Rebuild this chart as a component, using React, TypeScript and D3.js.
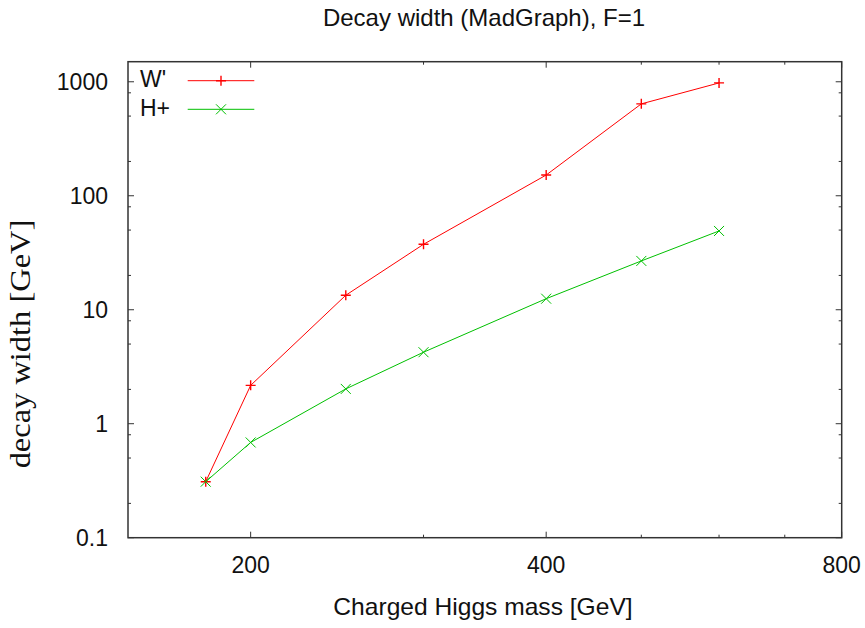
import React from "react";
import * as d3 from "d3";

const masses = [180, 200, 250, 300, 400, 500, 600];
const wprimeWidth = [0.31, 2.17, 13.4, 37.5, 152, 640, 977];
const hplusWidth = [0.31, 0.685, 2.02, 4.24, 12.5, 26.8, 49.1];
const seriesNames = ["W'", "H+"];
const xMajorTicks = [200, 400, 800];
const xMinorTicks = [300, 500, 600, 700];
const yMajorTicks = [0.1, 1, 10, 100, 1000];
const yMajorLabels = ["0.1", "1", "10", "100", "1000"];
const yMinorMultipliers = [2, 5, 8];

const W = 865;
const H = 628;
const L = 128;
const R = 841.7;
const T = 61.7;
const B = 537.7;

const SANS = "'Liberation Sans', Arial, sans-serif";
const SERIF = "'Liberation Serif', 'Times New Roman', serif";

export default function App() {
  const x = d3.scaleLog().domain([150, 800]).range([L, R]);
  const y = d3.scaleLog().domain([0.1, 1500]).range([B, T]);

  const yMinor: number[] = [];
  yMajorTicks.forEach((m) => {
    yMinorMultipliers.forEach((k) => {
      const v = m * k;
      if (v < 1500) yMinor.push(v);
    });
  });

  const line = d3
    .line<[number, number]>()
    .x((d) => x(d[0]))
    .y((d) => y(d[1]));

  const wData: [number, number][] = masses.map((m, i) => [m, wprimeWidth[i]]);
  const hData: [number, number][] = masses.map((m, i) => [m, hplusWidth[i]]);

  const red = "#ff0000";
  const green = "#00c000";
  const axisColor = "#333";
  const ms = 5;

  const plus = (cx: number, cy: number, c: string, key: string) => (
    <path
      key={key}
      d={`M${cx - ms},${cy}H${cx + ms}M${cx},${cy - ms}V${cy + ms}`}
      stroke={c}
      strokeWidth={1.4}
      fill="none"
    />
  );
  const cross = (cx: number, cy: number, c: string, key: string) => (
    <path
      key={key}
      d={`M${cx - ms},${cy - ms}L${cx + ms},${cy + ms}M${cx - ms},${cy + ms}L${cx + ms},${cy - ms}`}
      stroke={c}
      strokeWidth={1}
      fill="none"
    />
  );

  const majLen = 6;
  const minLen = 3;

  return (
    <svg
      width={W}
      height={H}
      style={{ position: "absolute", left: 0, top: 0, background: "#fff" }}
    >
      <rect x={0} y={0} width={W} height={H} fill="#fff" />
      {/* title */}
      <text
        x={484}
        y={26}
        textAnchor="middle"
        fontFamily={SANS}
        fontSize={24}
        fill="#111"
      >
        {"Decay width (MadGraph),  F=1"}
      </text>

      {/* ticks */}
      <g stroke={axisColor} strokeWidth={1}>
        {yMajorTicks.map((v) => (
          <g key={"ym" + v}>
            <line x1={L} x2={L + majLen} y1={y(v)} y2={y(v)} />
            <line x1={R} x2={R - majLen} y1={y(v)} y2={y(v)} />
          </g>
        ))}
        {yMinor.map((v) => (
          <g key={"yn" + v}>
            <line x1={L} x2={L + minLen} y1={y(v)} y2={y(v)} />
            <line x1={R} x2={R - minLen} y1={y(v)} y2={y(v)} />
          </g>
        ))}
        {xMajorTicks.map((v) => (
          <g key={"xm" + v}>
            <line x1={x(v)} x2={x(v)} y1={B} y2={B - majLen} />
            <line x1={x(v)} x2={x(v)} y1={T} y2={T + majLen} />
          </g>
        ))}
        {xMinorTicks.map((v) => (
          <g key={"xn" + v}>
            <line x1={x(v)} x2={x(v)} y1={B} y2={B - minLen} />
            <line x1={x(v)} x2={x(v)} y1={T} y2={T + minLen} />
          </g>
        ))}
      </g>

      {/* frame */}
      <rect
        x={L}
        y={T}
        width={R - L}
        height={B - T}
        fill="none"
        stroke={axisColor}
        strokeWidth={1.5}
      />

      {/* tick labels */}
      {yMajorTicks.map((v, i) => (
        <text
          key={"yl" + v}
          x={108}
          y={y(v)}
          dy="0.36em"
          textAnchor="end"
          fontFamily={SANS}
          fontSize={23}
          fill="#111"
        >
          {yMajorLabels[i]}
        </text>
      ))}
      {xMajorTicks.map((v) => (
        <text
          key={"xl" + v}
          x={x(v)}
          y={573}
          textAnchor="middle"
          fontFamily={SANS}
          fontSize={23}
          fill="#111"
        >
          {String(v)}
        </text>
      ))}

      {/* axis labels */}
      <text
        x={483}
        y={615.5}
        textAnchor="middle"
        fontFamily={SANS}
        fontSize={23}
        fill="#111"
        transform="translate(483,0) scale(1.07,1) translate(-483,0)"
      >
        Charged Higgs mass [GeV]
      </text>
      <text
        transform="translate(30,344) rotate(-90) scale(1.12,1)"
        textAnchor="middle"
        fontFamily={SERIF}
        fontSize={29}
        fill="#111"
      >
        decay width [GeV]
      </text>

      {/* series */}
      <path d={line(wData) || ""} stroke={red} strokeWidth={1} fill="none" />
      <path d={line(hData) || ""} stroke={green} strokeWidth={1} fill="none" />
      {wData.map((d, i) => plus(x(d[0]), y(d[1]), red, "wp" + i))}
      {hData.map((d, i) => cross(x(d[0]), y(d[1]), green, "hp" + i))}

      {/* legend */}
      <text x={140} y={86.5} fontFamily={SANS} fontSize={23} fill="#111">
        {seriesNames[0]}
      </text>
      <line x1={187.7} x2={254.3} y1={80.7} y2={80.7} stroke={red} strokeWidth={1} />
      {plus(221, 80.7, red, "lw")}
      <text x={140} y={116} fontFamily={SANS} fontSize={23} fill="#111">
        {seriesNames[1]}
      </text>
      <line x1={187.7} x2={254.3} y1={109.3} y2={109.3} stroke={green} strokeWidth={1} />
      {cross(221, 109.3, green, "lh")}
    </svg>
  );
}
